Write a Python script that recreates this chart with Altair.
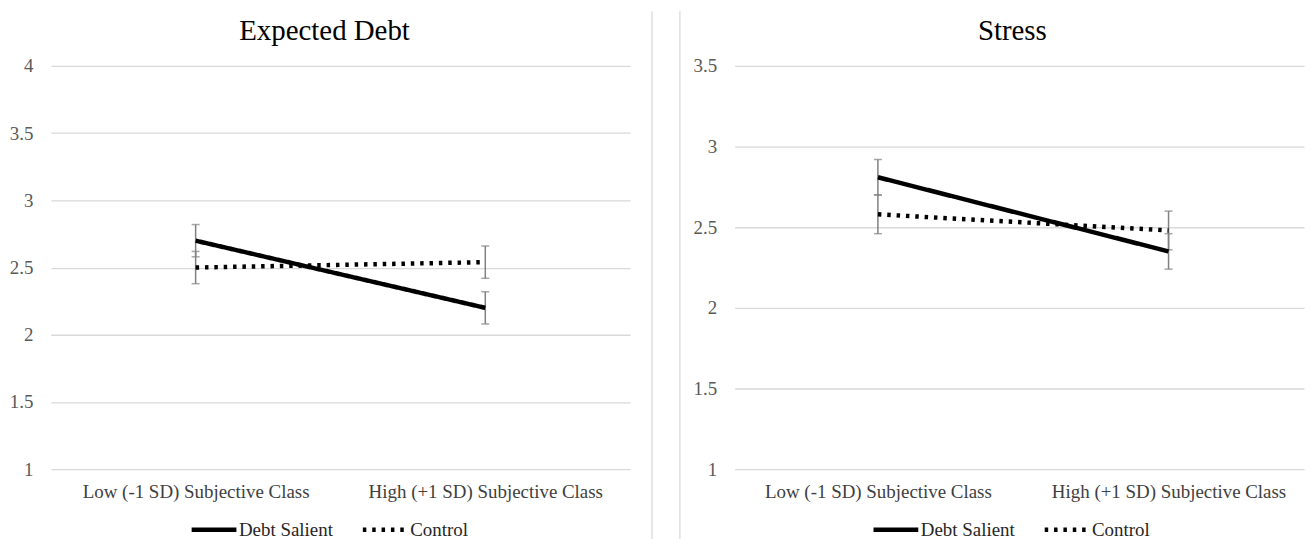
import altair as alt
import pandas as pd

categories = ["Low (-1 SD) Subjective Class", "High (+1 SD) Subjective Class"]
series_names = ["Debt Salient", "Control"]

debt_salient = [2.70, 2.20]
debt_control = [2.50, 2.54]
debt_salient_err = [0.12, 0.12]
debt_control_err = [0.12, 0.12]

stress_salient = [2.81, 2.35]
stress_control = [2.58, 2.48]
stress_salient_err = [0.11, 0.11]
stress_control_err = [0.12, 0.12]

debt_ticks = [1, 1.5, 2, 2.5, 3, 3.5, 4]
stress_ticks = [1, 1.5, 2, 2.5, 3, 3.5]

SERIF = "Liberation Serif"
GRID = "#d9d9d9"
ERR = "#808080"


def frame(sal, con, sal_err, con_err):
    rows = []
    for i, c in enumerate(categories):
        rows.append({"cat": c, "series": series_names[0], "val": sal[i],
                     "lo": sal[i] - sal_err[i], "hi": sal[i] + sal_err[i]})
        rows.append({"cat": c, "series": series_names[1], "val": con[i],
                     "lo": con[i] - con_err[i], "hi": con[i] + con_err[i]})
    return pd.DataFrame(rows)


def panel(title, df, ticks, width, pad, align, title_dx, legend_x):
    xscale = alt.Scale(type="point", domain=categories, padding=pad, align=align)
    xaxis = alt.Axis(title=None, grid=False, domain=False, ticks=False, labelPadding=14,
                     labelFontSize=19, labelFont=SERIF, labelColor="#404040",
                     labelAngle=0, labelLimit=400)
    yscale = alt.Scale(domain=[ticks[0], ticks[-1]], nice=False, zero=False)
    yaxis = alt.Axis(title=None, values=ticks, format="~g", domain=False, ticks=False,
                     labelPadding=18, grid=True, gridColor=GRID, gridWidth=1.3,
                     labelFontSize=19, labelFont=SERIF, labelColor="#595959")
    x = alt.X("cat:N", scale=xscale, axis=xaxis)
    base = alt.Chart(df)

    rules = base.mark_rule(color=ERR, strokeWidth=1.5).encode(
        x=x, y=alt.Y("lo:Q", scale=yscale, axis=yaxis), y2="hi:Q")
    caps_lo = base.mark_tick(color=ERR, thickness=1.5, size=8).encode(
        x=x, y=alt.Y("lo:Q", scale=yscale, axis=yaxis))
    caps_hi = base.mark_tick(color=ERR, thickness=1.5, size=8).encode(
        x=x, y=alt.Y("hi:Q", scale=yscale, axis=yaxis))

    legend = alt.Legend(title=None, orient="none", legendX=legend_x, legendY=441,
                        direction="horizontal", symbolType="stroke", symbolSize=2025,
                        symbolStrokeWidth=4.5, symbolStrokeColor="black",
                        labelFont=SERIF, labelFontSize=19, labelColor="#262626",
                        labelOffset=0, columnPadding=20, padding=0)
    lines = base.mark_line(color="black", strokeWidth=4.5).encode(
        x=x,
        y=alt.Y("val:Q", scale=yscale, axis=yaxis),
        strokeDash=alt.StrokeDash(
            "series:N",
            scale=alt.Scale(domain=series_names, range=[[1, 0], [3.5, 5.9]]),
            legend=legend),
    )
    return alt.layer(rules, caps_lo, caps_hi, lines).properties(
        width=width, height=405,
        title=alt.TitleParams(title, fontSize=29, font=SERIF, color="black",
                              fontWeight="normal", anchor="middle", dx=title_dx,
                              baseline="alphabetic", offset=-11.5))


def spacer():
    one = alt.Chart(pd.DataFrame({"s": [0]}))
    a = one.mark_rule(color=GRID, strokeWidth=1.3).encode(
        x=alt.value(20), y=alt.value(-55), y2=alt.value(480))
    b = one.mark_rule(color=GRID, strokeWidth=1.3).encode(
        x=alt.value(48), y=alt.value(-55), y2=alt.value(480))
    return alt.layer(a, b).properties(width=59, height=405)


left = panel("Expected Debt",
             frame(debt_salient, debt_control, debt_salient_err, debt_control_err),
             debt_ticks, 582, 0.5, 0.5, -16, 139)
right = panel("Stress",
              frame(stress_salient, stress_control, stress_salient_err, stress_control_err),
              stress_ticks, 572, 0.4795, 0.514, -7, 137)

chart = (alt.hconcat(left, spacer(), right, spacing=0)
         .resolve_scale(strokeDash="independent")
         .resolve_legend(strokeDash="independent")
         .properties(padding={"left": 0, "top": 0, "right": 0, "bottom": 0})
         .configure(font=SERIF, style={"guide-label": {"font": SERIF, "fontSize": 19}})
         .configure_view(stroke="transparent")
         .configure_legend(labelFont=SERIF, labelFontSize=19, labelColor="#262626"))

chart.save("out.html", embed_options={"renderer": "svg", "actions": False})
